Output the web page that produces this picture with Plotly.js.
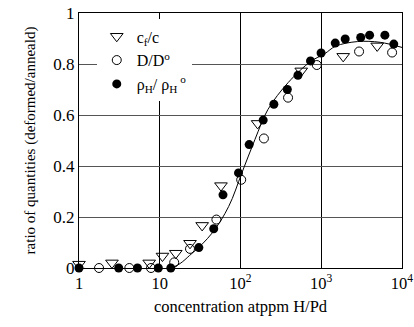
<!DOCTYPE html>
<html><head><meta charset="utf-8">
<script src="https://cdn.plot.ly/plotly-3.0.1.min.js"></script>
<style>html,body{margin:0;padding:0;background:#fff}#chart{width:414px;height:327px}</style>
</head><body><div id="chart"></div>
<script>
const cfX = [1, 2.56, 7.4, 10.8, 15.8, 23.7, 33.5, 57.3, 163, 565, 1870, 4930];
const cfY = [0.015, 0.02, 0.02, 0.047, 0.058, 0.097, 0.167, 0.323, 0.567, 0.773, 0.83, 0.871];
const dX = [1.77, 4.2, 7.8, 15.1, 23.7, 50.3, 102, 195, 388, 881, 2940, 7540];
const dY = [0, 0, 0, 0.022, 0.075, 0.19, 0.346, 0.508, 0.668, 0.796, 0.849, 0.845];
const rX = [1, 3.1, 5.3, 9.6, 13.7, 30.5, 46.6, 60.7, 94.5, 128, 191, 259, 380, 515, 736, 995, 1490, 1980, 3080, 3970, 6140, 7910];
const rY = [0, 0, 0, 0, 0, 0.08, 0.154, 0.287, 0.373, 0.484, 0.58, 0.642, 0.70, 0.756, 0.812, 0.843, 0.882, 0.898, 0.904, 0.913, 0.913, 0.878];
const fitX = [1, 13.7, 25, 44.5, 71.3, 104, 151, 219, 389, 741, 1100, 1510, 2820, 5370, 10000];
const fitY = [0, 0, 0.057, 0.137, 0.241, 0.373, 0.504, 0.622, 0.727, 0.81, 0.84, 0.87, 0.888, 0.885, 0.865];
const xTickVals = [1, 10, 100, 1000, 10000];
const xTickText = ['1', '10', '10<sup>2</sup>', '10<sup>3</sup>', '10<sup>4</sup>'];
const yTickVals = [0, 0.2, 0.4, 0.6, 0.8, 1];
const yTickText = ['0', '0.2', '0.4', '0.6', '0.8', '1'];

const font = 'Liberation Serif, Times New Roman, serif';
const traces = [
  {x: fitX, y: fitY, mode: 'lines', line: {color: '#000', width: 1, shape: 'spline'}, showlegend: false, hoverinfo: 'skip'},
  {x: cfX, y: cfY, mode: 'markers', name: 'c<sub>f</sub>/c',
   marker: {symbol: 'triangle-down-open', size: 11, color: '#000', line: {width: 1}}},
  {x: dX, y: dY, mode: 'markers', name: 'D/D<sup>o</sup>',
   marker: {symbol: 'circle-open', size: 9, color: '#000', line: {width: 1}}},
  {x: rX, y: rY, mode: 'markers', name: 'ρ<sub>H</sub>/ ρ<sub>H</sub><sup> o</sup>',
   marker: {symbol: 'circle', size: 9, color: '#000'}}
];
traces.forEach(t => t.cliponaxis = false);

const layout = {
  width: 414, height: 327,
  margin: {l: 79, r: 12, t: 13, b: 59},
  paper_bgcolor: '#fff', plot_bgcolor: '#fff',
  font: {family: font, size: 17, color: '#000'},
  xaxis: {
    type: 'log', range: [0, 4], tickvals: xTickVals, ticktext: xTickText,
    showgrid: true, gridcolor: '#000', gridwidth: 1,
    showline: true, linecolor: '#000', linewidth: 1, mirror: true,
    ticks: '', zeroline: false, tickfont: {size: 16.5, family: font},
    ticklabeloverflow: 'allow',
    title: {text: 'concentration atppm H/Pd', font: {size: 16.5, family: font}, standoff: 8}
  },
  yaxis: {
    range: [0, 1], tickvals: yTickVals, ticktext: yTickText,
    showgrid: true, gridcolor: '#555', gridwidth: 1,
    showline: true, linecolor: '#000', linewidth: 1, mirror: true,
    ticks: '', zeroline: false, tickfont: {size: 17, family: font},
    ticklabeloverflow: 'allow',
    title: {text: 'ratio of quantities (deformed/anneald)', font: {size: 15, family: font}, standoff: 14}
  },
  legend: {
    x: 0.055, y: 0.975, xanchor: 'left', yanchor: 'top',
    bgcolor: '#fff', borderwidth: 0,
    font: {size: 16, family: font}, tracegroupgap: 0, itemwidth: 30
  },
  showlegend: true
};
Plotly.newPlot('chart', traces, layout, {staticPlot: true, displayModeBar: false});
</script>
</body></html>
